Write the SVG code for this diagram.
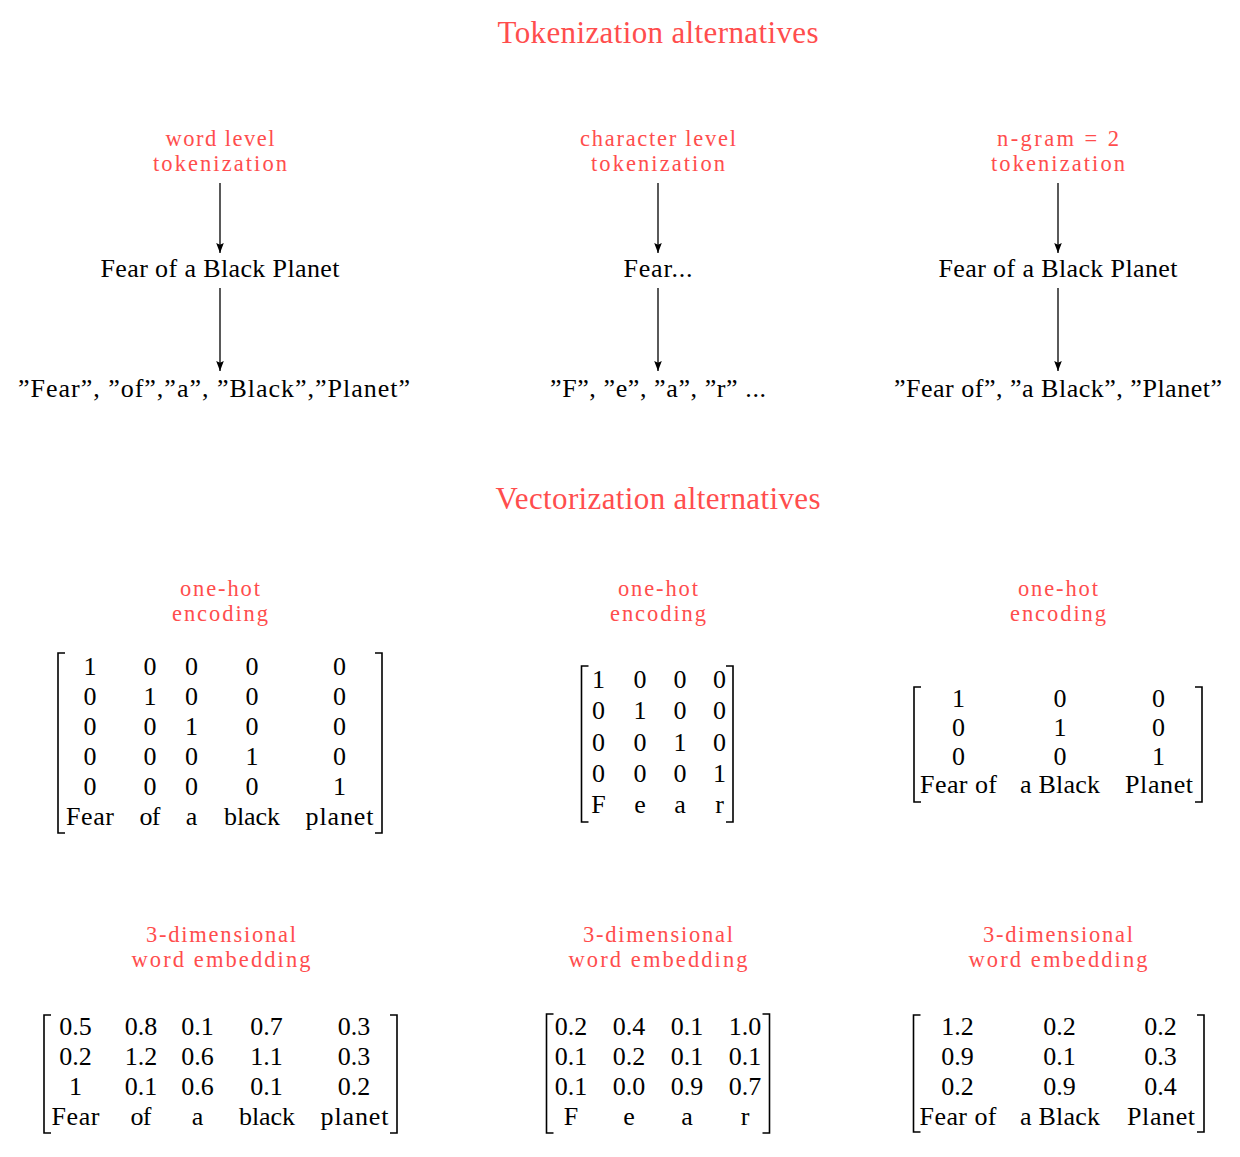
<svg xmlns="http://www.w3.org/2000/svg" width="1240" height="1157" viewBox="0 0 1240 1157">
<defs>
<marker id="arr" markerUnits="userSpaceOnUse" markerWidth="12" markerHeight="10" viewBox="0 0 12 10" refX="10" refY="5" orient="auto">
<path d="M0,1.2 L10,5 L0,8.8 L1.8,5 Z" fill="#000"/>
</marker>
<style>
text{font-family:"Liberation Serif","Times New Roman",serif;font-size:26px;fill:#000;text-anchor:middle}
.title{font-size:31px;fill:#FF4D4D}
.red{fill:#FF4D4D;font-size:22.5px}
.br{fill:none;stroke:#000;stroke-width:1.6}
.conn line{stroke:#000;stroke-width:1.3}
</style>
</defs>
<rect width="1240" height="1157" fill="#fff"/>

<g id="title-tokenization"><text class="title" x="658" y="43" textLength="321" lengthAdjust="spacing">Tokenization alternatives</text></g>
<g id="title-vectorization"><text class="title" x="658" y="509" textLength="325" lengthAdjust="spacing">Vectorization alternatives</text></g>

<g id="label-word"><text class="red" x="220" y="145.5" textLength="109" lengthAdjust="spacing">word level</text><text class="red" x="220" y="170.5" textLength="134" lengthAdjust="spacing">tokenization</text></g>
<g id="label-char"><text class="red" x="658" y="145.5" textLength="156" lengthAdjust="spacing">character level</text><text class="red" x="658" y="170.5" textLength="134" lengthAdjust="spacing">tokenization</text></g>
<g id="label-ngram"><text class="red" x="1058" y="145.5" textLength="122" lengthAdjust="spacing">n-gram = 2</text><text class="red" x="1058" y="170.5" textLength="134" lengthAdjust="spacing">tokenization</text></g>

<g id="sent-word"><text x="220" y="277" textLength="239" lengthAdjust="spacing">Fear of a Black Planet</text></g>
<g id="sent-char"><text x="658" y="277" textLength="69" lengthAdjust="spacing">Fear...</text></g>
<g id="sent-ngram"><text x="1058" y="277" textLength="239" lengthAdjust="spacing">Fear of a Black Planet</text></g>

<g id="tok-word"><text x="214" y="397" textLength="392" lengthAdjust="spacing">”Fear”,  ”of”,”a”,  ”Black”,”Planet”</text></g>
<g id="tok-char"><text x="658" y="397" textLength="216" lengthAdjust="spacing">”F”, ”e”, ”a”, ”r” ...</text></g>
<g id="tok-ngram"><text x="1058" y="397" textLength="328" lengthAdjust="spacing">”Fear of”, ”a Black”, ”Planet”</text></g>

<g id="connectors" class="conn">
<line x1="220" y1="183" x2="220" y2="253" marker-end="url(#arr)"/>
<line x1="220" y1="288" x2="220" y2="371" marker-end="url(#arr)"/>
<line x1="658" y1="183" x2="658" y2="253" marker-end="url(#arr)"/>
<line x1="658" y1="288" x2="658" y2="371" marker-end="url(#arr)"/>
<line x1="1058" y1="183" x2="1058" y2="253" marker-end="url(#arr)"/>
<line x1="1058" y1="288" x2="1058" y2="371" marker-end="url(#arr)"/>
</g>

<g id="label-onehot-word"><text class="red" x="220" y="595.5" textLength="80" lengthAdjust="spacing">one-hot</text><text class="red" x="220" y="620.5" textLength="96" lengthAdjust="spacing">encoding</text></g>
<g id="label-onehot-char"><text class="red" x="658" y="595.5" textLength="80" lengthAdjust="spacing">one-hot</text><text class="red" x="658" y="620.5" textLength="96" lengthAdjust="spacing">encoding</text></g>
<g id="label-onehot-ngram"><text class="red" x="1058" y="595.5" textLength="80" lengthAdjust="spacing">one-hot</text><text class="red" x="1058" y="620.5" textLength="96" lengthAdjust="spacing">encoding</text></g>

<g id="matrix-onehot-word">
<path class="br" d="M65,653 H58 V833 H65 M375,653 H382 V833 H375"/>
<text x="90" y="675">1</text><text x="150" y="675">0</text><text x="191.5" y="675">0</text><text x="252" y="675">0</text><text x="339.5" y="675">0</text>
<text x="90" y="705">0</text><text x="150" y="705">1</text><text x="191.5" y="705">0</text><text x="252" y="705">0</text><text x="339.5" y="705">0</text>
<text x="90" y="735">0</text><text x="150" y="735">0</text><text x="191.5" y="735">1</text><text x="252" y="735">0</text><text x="339.5" y="735">0</text>
<text x="90" y="765">0</text><text x="150" y="765">0</text><text x="191.5" y="765">0</text><text x="252" y="765">1</text><text x="339.5" y="765">0</text>
<text x="90" y="795">0</text><text x="150" y="795">0</text><text x="191.5" y="795">0</text><text x="252" y="795">0</text><text x="339.5" y="795">1</text>
<text x="90" y="825" textLength="48" lengthAdjust="spacing">Fear</text><text x="150" y="825" textLength="21" lengthAdjust="spacing">of</text><text x="191.5" y="825">a</text><text x="252" y="825" textLength="56" lengthAdjust="spacing">black</text><text x="339.5" y="825" textLength="68" lengthAdjust="spacing">planet</text>
</g>

<g id="matrix-onehot-char">
<path class="br" d="M588.5,666 H581.5 V822 H588.5 M726,666 H733 V822 H726"/>
<text x="598.5" y="688">1</text><text x="640" y="688">0</text><text x="680" y="688">0</text><text x="719.5" y="688">0</text>
<text x="598.5" y="719">0</text><text x="640" y="719">1</text><text x="680" y="719">0</text><text x="719.5" y="719">0</text>
<text x="598.5" y="750.5">0</text><text x="640" y="750.5">0</text><text x="680" y="750.5">1</text><text x="719.5" y="750.5">0</text>
<text x="598.5" y="782">0</text><text x="640" y="782">0</text><text x="680" y="782">0</text><text x="719.5" y="782">1</text>
<text x="598.5" y="813">F</text><text x="640" y="813">e</text><text x="680" y="813">a</text><text x="719.5" y="813">r</text>
</g>

<g id="matrix-onehot-ngram">
<path class="br" d="M921,687 H914 V802 H921 M1195,687 H1202 V802 H1195"/>
<text x="958.5" y="706.5">1</text><text x="1060" y="706.5">0</text><text x="1158.5" y="706.5">0</text>
<text x="958.5" y="735.5">0</text><text x="1060" y="735.5">1</text><text x="1158.5" y="735.5">0</text>
<text x="958.5" y="764.5">0</text><text x="1060" y="764.5">0</text><text x="1158.5" y="764.5">1</text>
<text x="958.5" y="793" textLength="77" lengthAdjust="spacing">Fear of</text><text x="1060" y="793" textLength="80" lengthAdjust="spacing">a Black</text><text x="1159" y="793" textLength="68" lengthAdjust="spacing">Planet</text>
</g>

<g id="label-embed-word"><text class="red" x="221" y="941.5" textLength="150" lengthAdjust="spacing">3-dimensional</text><text class="red" x="221" y="966.5" textLength="179" lengthAdjust="spacing">word embedding</text></g>
<g id="label-embed-char"><text class="red" x="658" y="941.5" textLength="150" lengthAdjust="spacing">3-dimensional</text><text class="red" x="658" y="966.5" textLength="179" lengthAdjust="spacing">word embedding</text></g>
<g id="label-embed-ngram"><text class="red" x="1058" y="941.5" textLength="150" lengthAdjust="spacing">3-dimensional</text><text class="red" x="1058" y="966.5" textLength="179" lengthAdjust="spacing">word embedding</text></g>

<g id="matrix-embed-word">
<path class="br" d="M51,1015 H44 V1133 H51 M390,1015 H397 V1133 H390"/>
<text x="75.5" y="1035">0.5</text><text x="141" y="1035">0.8</text><text x="197.5" y="1035">0.1</text><text x="266.5" y="1035">0.7</text><text x="354" y="1035">0.3</text>
<text x="75.5" y="1065">0.2</text><text x="141" y="1065">1.2</text><text x="197.5" y="1065">0.6</text><text x="266.5" y="1065">1.1</text><text x="354" y="1065">0.3</text>
<text x="75.5" y="1095">1</text><text x="141" y="1095">0.1</text><text x="197.5" y="1095">0.6</text><text x="266.5" y="1095">0.1</text><text x="354" y="1095">0.2</text>
<text x="75.5" y="1125" textLength="48" lengthAdjust="spacing">Fear</text><text x="141" y="1125" textLength="21" lengthAdjust="spacing">of</text><text x="197.5" y="1125">a</text><text x="267" y="1125" textLength="56" lengthAdjust="spacing">black</text><text x="354.5" y="1125" textLength="68" lengthAdjust="spacing">planet</text>
</g>

<g id="matrix-embed-char">
<path class="br" d="M553.5,1014 H546.5 V1133 H553.5 M762.5,1014 H769.5 V1133 H762.5"/>
<text x="571" y="1035">0.2</text><text x="629" y="1035">0.4</text><text x="687" y="1035">0.1</text><text x="745" y="1035">1.0</text>
<text x="571" y="1065">0.1</text><text x="629" y="1065">0.2</text><text x="687" y="1065">0.1</text><text x="745" y="1065">0.1</text>
<text x="571" y="1095">0.1</text><text x="629" y="1095">0.0</text><text x="687" y="1095">0.9</text><text x="745" y="1095">0.7</text>
<text x="571" y="1125">F</text><text x="629" y="1125">e</text><text x="687" y="1125">a</text><text x="745" y="1125">r</text>
</g>

<g id="matrix-embed-ngram">
<path class="br" d="M920.5,1015 H913.5 V1132 H920.5 M1197,1015 H1204 V1132 H1197"/>
<text x="957.5" y="1035">1.2</text><text x="1059.5" y="1035">0.2</text><text x="1160.5" y="1035">0.2</text>
<text x="957.5" y="1065">0.9</text><text x="1059.5" y="1065">0.1</text><text x="1160.5" y="1065">0.3</text>
<text x="957.5" y="1095">0.2</text><text x="1059.5" y="1095">0.9</text><text x="1160.5" y="1095">0.4</text>
<text x="958" y="1125" textLength="77" lengthAdjust="spacing">Fear of</text><text x="1060" y="1125" textLength="80" lengthAdjust="spacing">a Black</text><text x="1161" y="1125" textLength="68" lengthAdjust="spacing">Planet</text>
</g>
</svg>
